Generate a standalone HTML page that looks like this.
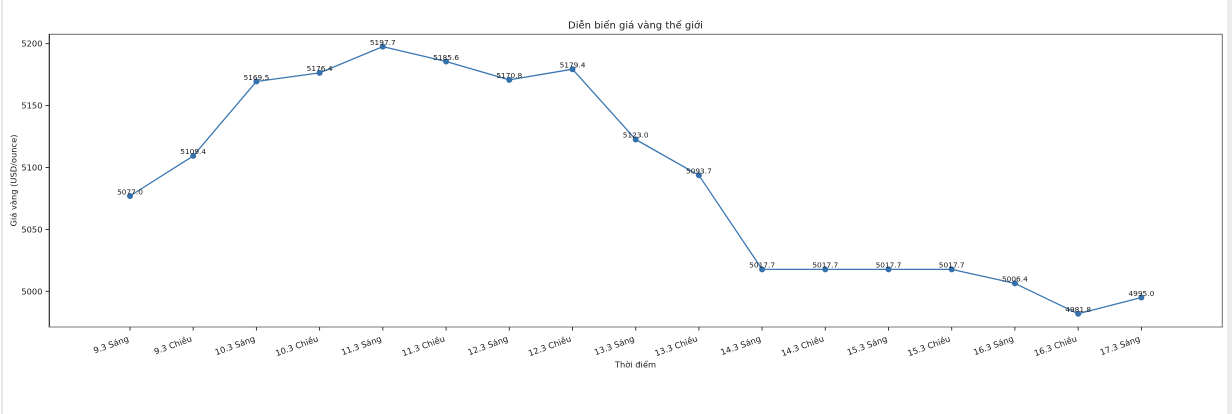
<!DOCTYPE html>
<html><head><meta charset="utf-8"><style>
html,body{margin:0;padding:0;background:#fff;}
svg{display:block;}
text{font-family:"DejaVu Sans","Liberation Sans",sans-serif;fill:#1a1a1a;}
</style></head><body>
<svg width="1232" height="414" viewBox="0 0 1232 414" xmlns="http://www.w3.org/2000/svg">
<rect x="0" y="0" width="1232" height="414" fill="#fff"/>
<rect x="1" y="0" width="2" height="414" fill="#e6e6e6"/>
<rect x="1227" y="0" width="5" height="414" fill="#ececec"/>
<!-- title -->
<text x="635.5" y="28.5" font-size="10" text-anchor="middle">Diễn biến giá vàng thế giới</text>
<!-- axes frame -->
<rect x="49.3" y="34.3" width="1173" height="292.7" fill="none" stroke="#6a6a6a" stroke-width="1"/>
<line x1="49.3" y1="34" x2="49.3" y2="327.5" stroke="#222" stroke-width="1"/>
<line x1="49" y1="327" x2="1222.5" y2="327" stroke="#777" stroke-width="1"/>
<!-- y ticks -->
<g stroke="#222" stroke-width="0.9">
<line x1="45.5" y1="291.3" x2="49.3" y2="291.3"/>
<line x1="45.5" y1="229.4" x2="49.3" y2="229.4"/>
<line x1="45.5" y1="167.5" x2="49.3" y2="167.5"/>
<line x1="45.5" y1="105.6" x2="49.3" y2="105.6"/>
<line x1="45.5" y1="43.7" x2="49.3" y2="43.7"/>
</g>
<g font-size="8.3" text-anchor="end">
<text x="42.5" y="294.3">5000</text>
<text x="42.5" y="232.4">5050</text>
<text x="42.5" y="170.5">5100</text>
<text x="42.5" y="108.6">5150</text>
<text x="42.5" y="46.7">5200</text>
</g>
<text transform="translate(16.5,180.5) rotate(-90)" font-size="8.3" text-anchor="middle">Giá vàng (USD/ounce)</text>
<!-- x ticks -->
<g stroke="#222" stroke-width="0.9">
<line x1="130" y1="327" x2="130" y2="330.5"/>
<line x1="193.2" y1="327" x2="193.2" y2="330.5"/>
<line x1="256.4" y1="327" x2="256.4" y2="330.5"/>
<line x1="319.6" y1="327" x2="319.6" y2="330.5"/>
<line x1="382.8" y1="327" x2="382.8" y2="330.5"/>
<line x1="446.1" y1="327" x2="446.1" y2="330.5"/>
<line x1="509.3" y1="327" x2="509.3" y2="330.5"/>
<line x1="572.5" y1="327" x2="572.5" y2="330.5"/>
<line x1="635.7" y1="327" x2="635.7" y2="330.5"/>
<line x1="698.9" y1="327" x2="698.9" y2="330.5"/>
<line x1="762.1" y1="327" x2="762.1" y2="330.5"/>
<line x1="825.3" y1="327" x2="825.3" y2="330.5"/>
<line x1="888.5" y1="327" x2="888.5" y2="330.5"/>
<line x1="951.7" y1="327" x2="951.7" y2="330.5"/>
<line x1="1014.9" y1="327" x2="1014.9" y2="330.5"/>
<line x1="1078.2" y1="327" x2="1078.2" y2="330.5"/>
<line x1="1141.4" y1="327" x2="1141.4" y2="330.5"/>
</g>
<g font-size="8.3" text-anchor="end">
<text transform="translate(129.3,341) rotate(-20)">9.3 Sáng</text>
<text transform="translate(192.5,341) rotate(-20)">9.3 Chiều</text>
<text transform="translate(255.7,341) rotate(-20)">10.3 Sáng</text>
<text transform="translate(318.9,341) rotate(-20)">10.3 Chiều</text>
<text transform="translate(382.1,341) rotate(-20)">11.3 Sáng</text>
<text transform="translate(445.4,341) rotate(-20)">11.3 Chiều</text>
<text transform="translate(508.6,341) rotate(-20)">12.3 Sáng</text>
<text transform="translate(571.8,341) rotate(-20)">12.3 Chiều</text>
<text transform="translate(635,341) rotate(-20)">13.3 Sáng</text>
<text transform="translate(698.2,341) rotate(-20)">13.3 Chiều</text>
<text transform="translate(761.4,341) rotate(-20)">14.3 Sáng</text>
<text transform="translate(824.6,341) rotate(-20)">14.3 Chiều</text>
<text transform="translate(887.8,341) rotate(-20)">15.3 Sáng</text>
<text transform="translate(951,341) rotate(-20)">15.3 Chiều</text>
<text transform="translate(1014.2,341) rotate(-20)">16.3 Sáng</text>
<text transform="translate(1077.5,341) rotate(-20)">16.3 Chiều</text>
<text transform="translate(1140.7,341) rotate(-20)">17.3 Sáng</text>
</g>
<text x="635.5" y="367.5" font-size="8.3" text-anchor="middle">Thời điểm</text>
<!-- series -->
<polyline fill="none" stroke="#3a76b1" stroke-width="1.3" stroke-linejoin="round" points="130,196 193.2,155.9 256.4,81.5 319.6,72.9 382.8,46.6 446.1,61.5 509.3,79.9 572.5,69.2 635.7,139.5 698.9,175.3 762.1,269.4 825.3,269.4 888.5,269.4 951.7,269.4 1014.9,283.4 1078.2,313.8 1141.4,297.5"/>
<g fill="#3571ad">
<circle cx="130" cy="196" r="3"/>
<circle cx="193.2" cy="155.9" r="3"/>
<circle cx="256.4" cy="81.5" r="3"/>
<circle cx="319.6" cy="72.9" r="3"/>
<circle cx="382.8" cy="46.6" r="3"/>
<circle cx="446.1" cy="61.5" r="3"/>
<circle cx="509.3" cy="79.9" r="3"/>
<circle cx="572.5" cy="69.2" r="3"/>
<circle cx="635.7" cy="139.5" r="3"/>
<circle cx="698.9" cy="175.3" r="3"/>
<circle cx="762.1" cy="269.4" r="3"/>
<circle cx="825.3" cy="269.4" r="3"/>
<circle cx="888.5" cy="269.4" r="3"/>
<circle cx="951.7" cy="269.4" r="3"/>
<circle cx="1014.9" cy="283.4" r="3"/>
<circle cx="1078.2" cy="313.8" r="3"/>
<circle cx="1141.4" cy="297.5" r="3"/>
</g>
<g font-size="7.4" text-anchor="middle">
<text x="130" y="194.3">5077.0</text>
<text x="193.2" y="154.2">5109.4</text>
<text x="256.4" y="79.8">5169.5</text>
<text x="319.6" y="71.2">5176.4</text>
<text x="382.8" y="44.9">5197.7</text>
<text x="446.1" y="59.8">5185.6</text>
<text x="509.3" y="78.2">5170.8</text>
<text x="572.5" y="67.5">5179.4</text>
<text x="635.7" y="137.5">5123.0</text>
<text x="698.9" y="173.6">5093.7</text>
<text x="762.1" y="267.7">5017.7</text>
<text x="825.3" y="267.7">5017.7</text>
<text x="888.5" y="267.7">5017.7</text>
<text x="951.7" y="267.7">5017.7</text>
<text x="1014.9" y="281.7">5006.4</text>
<text x="1078.2" y="312.1">4981.8</text>
<text x="1141.4" y="295.8">4995.0</text>
</g>
</svg>
</body></html>
